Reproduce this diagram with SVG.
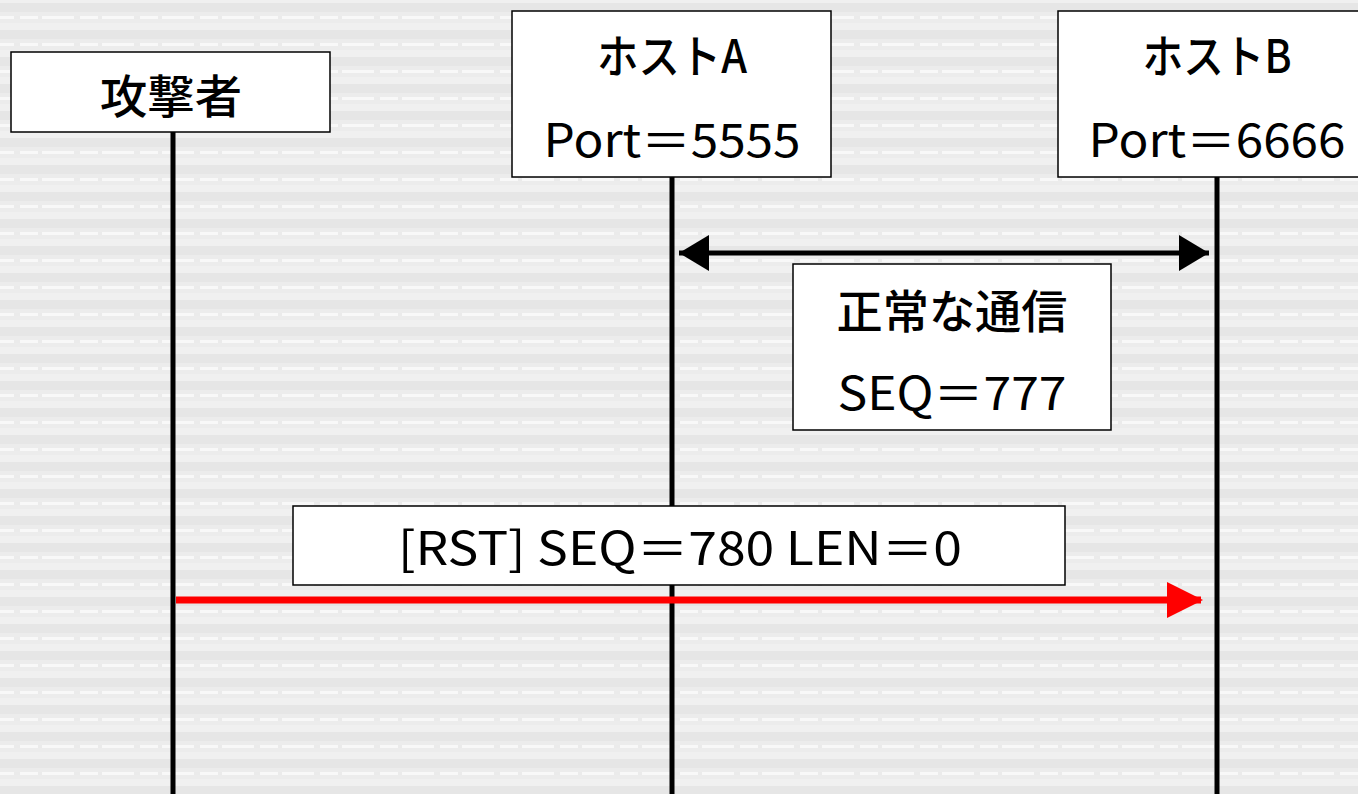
<svg xmlns="http://www.w3.org/2000/svg" width="1358" height="794" viewBox="0 0 1358 794">
<style>
.box{fill:#fff;stroke:#000;stroke-width:1.5}
.t{font-family:"Noto Sans CJK JP","Noto Sans",sans-serif;font-size:46px;fill:#000;text-anchor:middle}
.b{font-weight:500}
.life{stroke:#000;stroke-width:5}
</style>
<defs>
<pattern id="bg" width="60" height="27" patternUnits="userSpaceOnUse" y="3">
<rect width="60" height="27" fill="#ececec"/>
<rect y="0" width="60" height="9" fill="#e6e6e6"/>
<rect y="20" width="60" height="7" fill="#f0f0f0"/>
<rect y="13" width="60" height="3" fill="#f8f8f8"/>
<rect x="14" y="13" width="6" height="3" fill="#ebebeb"/>
<rect x="38" y="13" width="4" height="3" fill="#ebebeb"/>
</pattern>
<marker id="ab" markerUnits="userSpaceOnUse" markerWidth="32" markerHeight="36" refX="30" refY="18" orient="auto-start-reverse">
<path d="M0,0 L30,18 L0,36 Z" fill="#000"/>
</marker>
<marker id="ar" markerUnits="userSpaceOnUse" markerWidth="36" markerHeight="36" refX="34" refY="18" orient="auto">
<path d="M0,0 L36,18 L0,36 Z" fill="#f00"/>
</marker>
</defs>
<rect width="1358" height="794" fill="url(#bg)"/>
<g id="lifelines">
<line class="life" x1="173" y1="132" x2="173" y2="794"/>
<line class="life" x1="672" y1="177" x2="672" y2="794"/>
<line class="life" x1="1217" y1="177" x2="1217" y2="794"/>
</g>
<g id="attacker">
<rect class="box" x="11" y="52" width="319" height="80"/>
<text class="t b" x="171" y="113" textLength="142" lengthAdjust="spacingAndGlyphs">攻撃者</text>
</g>
<g id="hostA">
<rect class="box" x="512" y="11" width="319" height="166"/>
<text class="t b" x="672" y="73" textLength="150" lengthAdjust="spacingAndGlyphs">ホストA</text>
<text class="t" x="672" y="157" textLength="257" lengthAdjust="spacingAndGlyphs">Port＝5555</text>
</g>
<g id="hostB">
<rect class="box" x="1058" y="11" width="320" height="166"/>
<text class="t b" x="1217" y="73" textLength="149" lengthAdjust="spacingAndGlyphs">ホストB</text>
<text class="t" x="1217" y="157" textLength="257" lengthAdjust="spacingAndGlyphs">Port＝6666</text>
</g>
<g id="connectors">
<line x1="679" y1="253" x2="1209" y2="253" stroke="#000" stroke-width="5" marker-start="url(#ab)" marker-end="url(#ab)"/>
<line x1="176" y1="600" x2="1201" y2="600" stroke="#f00" stroke-width="7" marker-end="url(#ar)"/>
</g>
<g id="normal-label">
<rect class="box" x="793" y="264" width="318" height="166"/>
<text class="t b" x="952" y="328" textLength="231" lengthAdjust="spacingAndGlyphs">正常な通信</text>
<text class="t" x="952" y="410" textLength="229" lengthAdjust="spacingAndGlyphs">SEQ＝777</text>
</g>
<g id="rst-label">
<rect class="box" x="293" y="506" width="772" height="79"/>
<text class="t" x="680" y="565" textLength="564" lengthAdjust="spacingAndGlyphs">[RST] SEQ＝780 LEN＝0</text>
</g>
</svg>
